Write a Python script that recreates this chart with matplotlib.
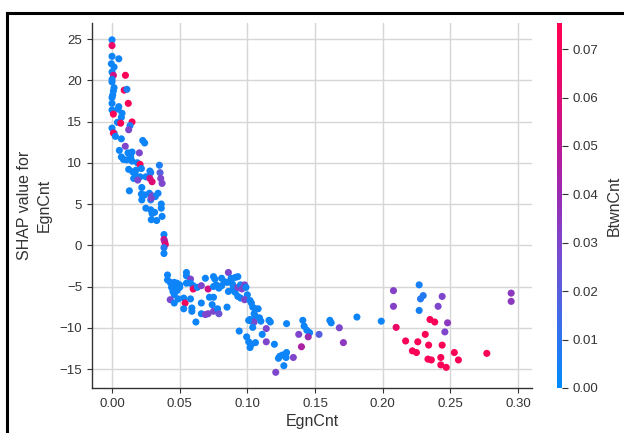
import matplotlib
matplotlib.use("Agg")
import matplotlib.pyplot as plt
from matplotlib.colors import LinearSegmentedColormap
from matplotlib.lines import Line2D

# --------------------------------------------------------------------------- #
# Data (EgnCnt value, SHAP value, BtwnCnt colour value)
# --------------------------------------------------------------------------- #
# steep part, EgnCnt ~ 0.00 - 0.04
steep_x = [0.000, 0.000, 0.000, 0.005, -0.0005, 0.0015, 0.000, 0.001, 0.0099, 0.000,
           0.000, 0.0015, 0.009, 0.011, 0.001, 0.0005, 0.000, 0.012, 0.000, 0.005,
           0.000, 0.0044, 0.0074, 0.001, 0.0069, 0.0148, 0.004, 0.0064, 0.0133, 0.0123,
           0.000, 0.0015, 0.001, 0.0025, 0.0069, 0.0227, 0.0241, 0.0098, 0.0054, 0.0118,
           0.0202, 0.0148, 0.0069, 0.0138, 0.0108, 0.0084, 0.0148, 0.0187, 0.0207, 0.035,
           0.0123, 0.0153, 0.0177, 0.0217, 0.028, 0.0355, 0.0172, 0.016, 0.0207, 0.025,
           0.0286, 0.028, 0.0296, 0.036, 0.037, 0.019, 0.0128, 0.022, 0.0217, 0.0241,
           0.0276, 0.0296, 0.034, 0.032, 0.022, 0.0286, 0.029, 0.025, 0.0286, 0.0296,
           0.0315, 0.0364, 0.0364, 0.037, 0.029, 0.033, 0.0384, 0.0384, 0.0389, 0.0394,
           0.0384, 0.0384]
steep_shap = [24.9, 24.2, 22.9, 22.6, 22.0, 21.6, 21.0, 20.6, 20.6, 20.1,
              19.8, 19.1, 18.8, 18.9, 18.7, 18.2, 17.9, 17.2, 17.2, 16.8,
              16.4, 16.5, 16.0, 15.9, 15.5, 14.95, 14.9, 14.8, 14.5, 14.0,
              14.2, 13.6, 13.6, 13.2, 12.9, 12.7, 12.4, 12.0, 11.5, 11.2,
              11.2, 11.3, 10.7, 10.7, 10.35, 10.4, 10.2, 10.0, 9.8, 9.7,
              9.2, 8.9, 9.1, 9.3, 9.0, 8.8, 8.5, 8.1, 8.3, 8.3,
              8.8, 8.1, 7.7, 8.1, 7.5, 7.9, 6.6, 7.0, 6.2, 6.1,
              6.3, 6.0, 6.3, 5.9, 5.5, 5.5, 5.7, 4.5, 4.3, 3.85,
              4.0, 5.0, 4.5, 3.5, 3.1, 3.0, 1.3, 0.7, 0.45, 0.1,
              -0.3, -1.0]
steep_btwn = [0.003, 0.065, 0.003, 0.003, 0.003, 0.003, 0.003, 0.055, 0.072, 0.003,
              0.003, 0.003, 0.072, 0.006, 0.003, 0.003, 0.003, 0.072, 0.003, 0.003,
              0.003, 0.003, 0.003, 0.072, 0.003, 0.072, 0.003, 0.072, 0.006, 0.030,
              0.003, 0.003, 0.072, 0.003, 0.003, 0.003, 0.003, 0.030, 0.003, 0.003,
              0.030, 0.003, 0.003, 0.003, 0.003, 0.003, 0.003, 0.003, 0.072, 0.006,
              0.003, 0.003, 0.003, 0.003, 0.003, 0.020, 0.003, 0.003, 0.003, 0.003,
              0.006, 0.055, 0.060, 0.030, 0.030, 0.028, 0.003, 0.003, 0.003, 0.003,
              0.003, 0.028, 0.003, 0.003, 0.003, 0.003, 0.030, 0.003, 0.003, 0.003,
              0.003, 0.003, 0.003, 0.003, 0.003, 0.003, 0.003, 0.055, 0.045, 0.060,
              0.008, 0.003]

# plateau, EgnCnt ~ 0.04 - 0.20
plateau_x = [0.041, 0.041, 0.043, 0.044, 0.046, 0.048, 0.050, 0.044, 0.047, 0.050,
             0.045, 0.048, 0.046, 0.043, 0.049, 0.046, 0.053, 0.054, 0.058, 0.053,
             0.059, 0.059, 0.062, 0.055, 0.055, 0.058, 0.055, 0.058, 0.060, 0.060,
             0.063, 0.066, 0.069, 0.071, 0.066, 0.066, 0.072, 0.075, 0.074, 0.069,
             0.071, 0.075, 0.078, 0.079, 0.075, 0.076, 0.077, 0.075, 0.079, 0.081,
             0.081, 0.083, 0.086, 0.085, 0.086, 0.085, 0.088, 0.089, 0.091, 0.093,
             0.089, 0.091, 0.093, 0.095, 0.096, 0.093, 0.095, 0.098, 0.099, 0.100,
             0.098, 0.102, 0.103, 0.104, 0.106, 0.108, 0.105, 0.106, 0.102, 0.103,
             0.105, 0.101, 0.104, 0.109, 0.110, 0.116, 0.117, 0.114, 0.094, 0.0995,
             0.101, 0.103, 0.102, 0.106, 0.111, 0.114, 0.120, 0.129, 0.123, 0.124,
             0.126, 0.128, 0.129, 0.1286, 0.127, 0.121, 0.134, 0.138, 0.140, 0.141,
             0.142, 0.144, 0.146, 0.145, 0.153, 0.161, 0.162, 0.168, 0.171, 0.181,
             0.199]
plateau_shap = [-3.6, -4.2, -4.5, -4.6, -4.5, -4.6, -4.8, -5.1, -5.2, -5.1,
                -5.6, -5.5, -6.0, -6.6, -6.5, -7.0, -6.4, -7.0, -6.5, -7.7,
                -7.6, -8.0, -9.3, -3.3, -3.7, -4.1, -4.6, -4.6, -4.9, -5.3,
                -5.1, -4.9, -4.0, -5.3, -7.0, -8.3, -6.3, -6.3, -7.2, -8.4,
                -8.3, -8.0, -7.7, -8.3, -3.8, -4.1, -4.8, -5.0, -5.2, -4.9,
                -4.0, -4.4, -3.3, -4.5, -5.6, -7.5, -4.0, -4.7, -3.9, -3.8,
                -5.4, -5.7, -5.1, -4.8, -5.3, -6.2, -6.4, -4.8, -5.1, -6.0,
                -6.6, -6.7, -7.0, -7.5, -7.7, -7.7, -8.3, -8.6, -9.0, -9.2,
                -9.3, -9.1, -9.95, -8.8, -9.2, -9.1, -9.3, -10.1, -10.4, -11.1,
                -11.7, -12.0, -12.4, -11.8, -10.8, -11.7, -12.0, -9.5, -13.7, -13.45,
                -13.3, -13.3, -13.0, -13.6, -14.6, -15.4, -13.6, -10.8, -12.3, -9.1,
                -9.8, -10.3, -10.6, -11.1, -10.8, -9.1, -9.4, -10.0, -11.8, -8.7,
                -9.2]
plateau_btwn = [0.003, 0.003, 0.003, 0.003, 0.003, 0.003, 0.003, 0.003, 0.003, 0.003,
                0.003, 0.003, 0.003, 0.028, 0.003, 0.003, 0.003, 0.070, 0.003, 0.003,
                0.003, 0.003, 0.003, 0.003, 0.003, 0.030, 0.003, 0.003, 0.003, 0.068,
                0.003, 0.030, 0.003, 0.055, 0.003, 0.003, 0.003, 0.003, 0.003, 0.030,
                0.030, 0.030, 0.003, 0.025, 0.003, 0.003, 0.003, 0.003, 0.003, 0.003,
                0.003, 0.003, 0.030, 0.003, 0.003, 0.003, 0.003, 0.003, 0.003, 0.003,
                0.003, 0.003, 0.030, 0.003, 0.030, 0.003, 0.003, 0.030, 0.003, 0.003,
                0.030, 0.003, 0.003, 0.003, 0.003, 0.003, 0.003, 0.003, 0.003, 0.003,
                0.028, 0.003, 0.003, 0.003, 0.003, 0.003, 0.003, 0.030, 0.003, 0.003,
                0.003, 0.003, 0.003, 0.003, 0.003, 0.030, 0.003, 0.003, 0.003, 0.003,
                0.003, 0.003, 0.003, 0.003, 0.003, 0.030, 0.030, 0.030, 0.045, 0.003,
                0.003, 0.003, 0.003, 0.040, 0.020, 0.003, 0.003, 0.030, 0.035, 0.003,
                0.003]

# tail, EgnCnt ~ 0.20 - 0.30
tail_x = [0.208, 0.208, 0.210, 0.217, 0.222, 0.225, 0.226, 0.227, 0.227, 0.228,
          0.230, 0.2315, 0.234, 0.235, 0.2385, 0.2335, 0.236, 0.241, 0.244, 0.248,
          0.246, 0.244, 0.243, 0.243, 0.247, 0.253, 0.256, 0.277, 0.295, 0.295]
tail_shap = [-5.5, -7.4, -9.95, -11.6, -12.8, -13.0, -11.7, -4.8, -7.9, -6.5,
             -6.1, -10.8, -12.1, -9.0, -9.3, -13.8, -13.9, -7.4, -6.2, -9.4,
             -10.5, -12.1, -13.6, -14.5, -14.8, -13.0, -13.9, -13.1, -5.8, -6.8]
tail_btwn = [0.032, 0.032, 0.065, 0.072, 0.072, 0.072, 0.072, 0.005, 0.005, 0.008,
             0.008, 0.072, 0.072, 0.072, 0.072, 0.072, 0.072, 0.030, 0.030, 0.035,
             0.030, 0.072, 0.072, 0.072, 0.072, 0.072, 0.072, 0.072, 0.035, 0.035]

x_ticks = [0.00, 0.05, 0.10, 0.15, 0.20, 0.25, 0.30]
y_ticks = [-15, -10, -5, 0, 5, 10, 15, 20, 25]
cbar_ticks = [0.00, 0.01, 0.02, 0.03, 0.04, 0.05, 0.06, 0.07]

egn_cnt = steep_x + plateau_x + tail_x
shap_egn = steep_shap + plateau_shap + tail_shap
btwn_cnt = steep_btwn + plateau_btwn + tail_btwn
assert len(egn_cnt) == len(shap_egn) == len(btwn_cnt)

# --------------------------------------------------------------------------- #
# Plot
# --------------------------------------------------------------------------- #
plt.rcParams["font.family"] = ["Liberation Sans", "DejaVu Sans"]
text_color = "#333333"

red_blue = LinearSegmentedColormap.from_list(
    "red_blue",
    ["#008bfb", "#2a76f0", "#5461e0", "#7a4ad0", "#9331b8",
     "#b21c9e", "#d40f80", "#f00563", "#ff0052"],
)

fig = plt.figure(figsize=(6.24, 4.33), dpi=100)
ax = fig.add_axes([92 / 624, 45 / 433, 440 / 624, 365 / 433])

sc = ax.scatter(egn_cnt, shap_egn, c=btwn_cnt, cmap=red_blue, vmin=0, vmax=0.0754,
                s=26, linewidths=0, zorder=3)

ax.set_xlim(-0.0148, 0.3104)
ax.set_ylim(-17.3, 26.94)
ax.set_xticks(x_ticks)
ax.set_xticklabels([f"{v:.2f}" for v in x_ticks])
ax.set_yticks(y_ticks)
ax.grid(True, color="#d6d6d6", linewidth=1.0, zorder=0)
ax.set_axisbelow(True)
for side in ("top", "right"):
    ax.spines[side].set_visible(False)
for side in ("left", "bottom"):
    ax.spines[side].set_color("#333333")
    ax.spines[side].set_linewidth(1.0)
ax.tick_params(labelsize=9.5, colors=text_color, length=3.5, width=0.8)
ax.set_xlabel("EgnCnt", fontsize=11.5, color=text_color, labelpad=3)
ax.set_ylabel("SHAP value for\nEgnCnt", fontsize=11.5, color=text_color,
              labelpad=6, linespacing=1.35)

cax = fig.add_axes([557 / 624, 45 / 433, 5 / 624, 365 / 433])
cb = fig.colorbar(sc, cax=cax, ticks=cbar_ticks)
cb.outline.set_visible(False)
cb.ax.set_yticklabels([f"{v:.2f}" for v in cbar_ticks])
cb.ax.tick_params(labelsize=9.5, colors=text_color, length=4, width=0.8)
cb.set_label("BtwnCnt", fontsize=11.5, color=text_color, labelpad=6)

# black frame of the screenshot
fig.add_artist(Line2D([7 / 624, 1.0], [1 - 13 / 433, 1 - 13 / 433], color="black",
                      linewidth=2.2, transform=fig.transFigure))
fig.add_artist(Line2D([7 / 624, 7 / 624], [0.0, 1 - 13 / 433], color="black",
                      linewidth=2.2, transform=fig.transFigure))

fig.savefig("out.png", dpi=100)
